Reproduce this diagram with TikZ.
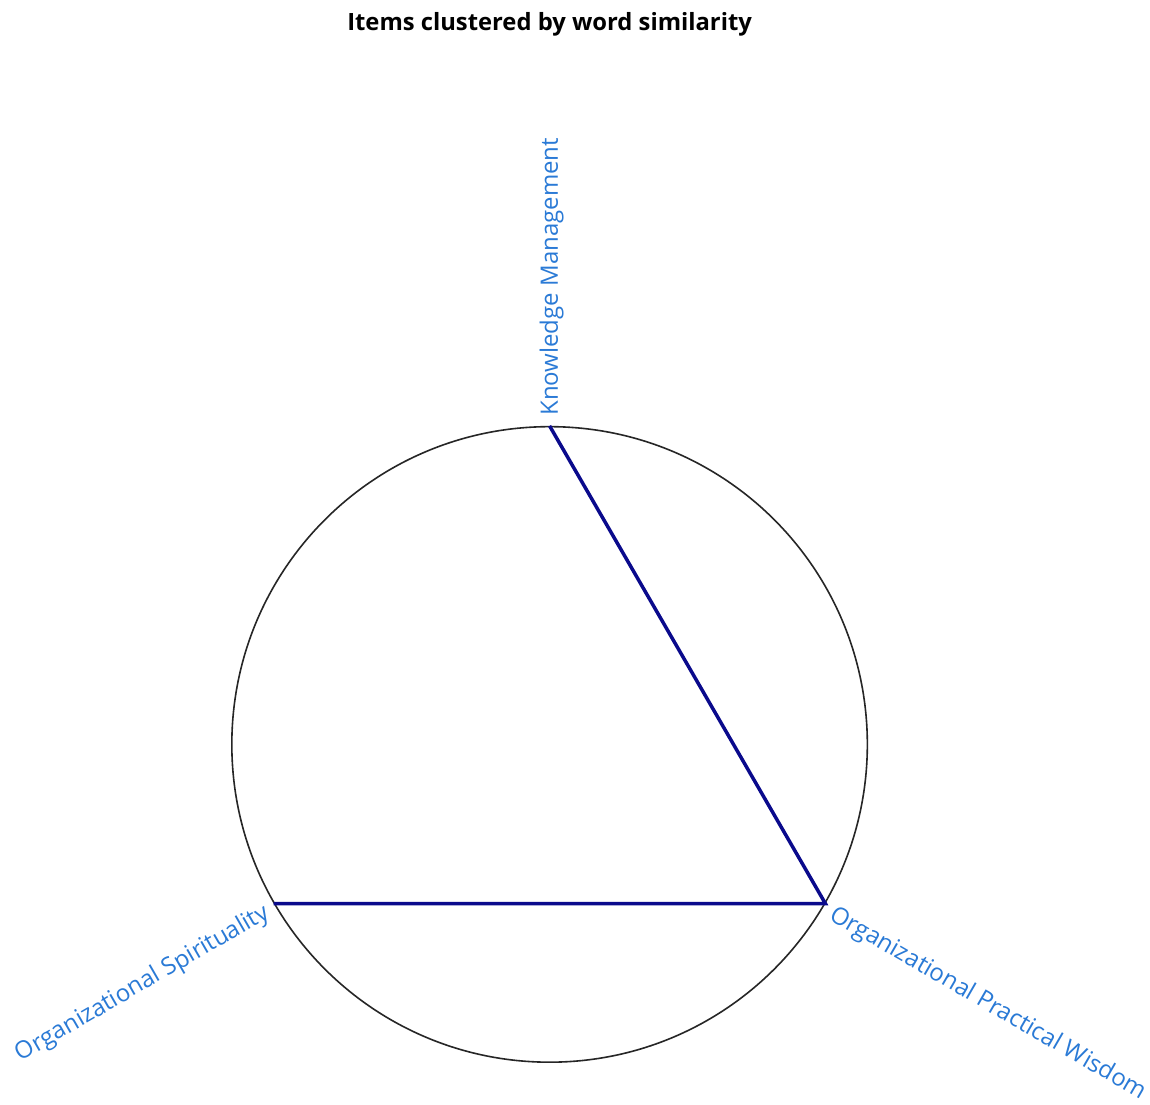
\documentclass[tikz,border=0pt]{standalone}
\usepackage{fontspec}
\setmainfont{Open Sans}
\usetikzlibrary{calc}
\definecolor{lblue}{RGB}{42,122,214}
\definecolor{navyline}{RGB}{10,10,140}
\tikzset{
  lbl/.style={text=lblue, font=\fontsize{24}{28}\selectfont, inner sep=0pt},
  edge/.style={draw=navyline, line width=3.5pt},
}
\begin{document}
\begin{tikzpicture}[x=1pt,y=1pt]
\fill[white] (0,0) rectangle (1150,1098);
\node[font=\bfseries\fontsize{23.8}{28}\selectfont] (title) at (550,1074) {Items clustered by word similarity};
\node[circle, draw=black!85, line width=1.6pt, minimum size=636pt, inner sep=0pt] (c) at (550,353) {};
\coordinate (km) at (c.90);
\coordinate (ops) at (c.210);
\coordinate (opw) at (c.-30);
\draw[edge] (km) -- (opw) -- (ops);
\node[lbl, rotate=90, anchor=west] (kml) at ($(km)+(2,10)$) {Knowledge Management};
\node[lbl, rotate=30, anchor=east] (opsl) at ($(ops)+(-6,-8)$) {Organizational Spirituality};
\node[lbl, rotate=-30, anchor=west] (opwl) at ($(opw)+(6,-10)$) {Organizational Practical Wisdom};
\end{tikzpicture}
\end{document}
